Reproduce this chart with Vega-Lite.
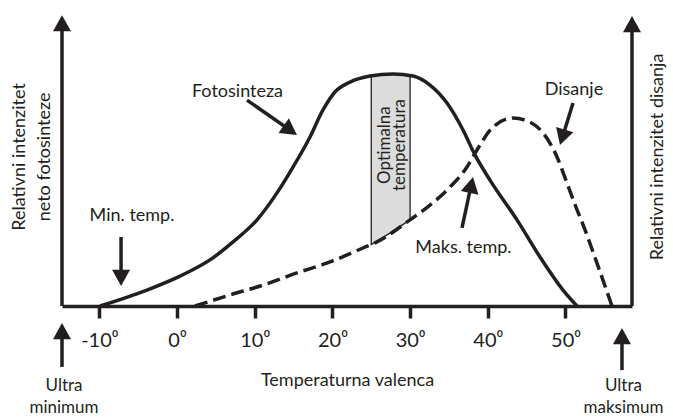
{
  "$schema": "https://vega.github.io/schema/vega-lite/v6.json",
  "width": 570,
  "height": 290,
  "autosize": {"type": "none"},
  "padding": {"left": 62, "top": 16, "right": 41, "bottom": 111},
  "background": "white",
  "config": {"view": {"stroke": null}, "font": "Lato"},
  "datasets": {
    "foto": [
      {"x": -9.91, "y": 0}, {"x": -3.86, "y": 5.5}, {"x": 0.39, "y": 10.3}, {"x": 4.63, "y": 16.6},
      {"x": 7.21, "y": 22.1}, {"x": 10.3, "y": 29.7}, {"x": 12.87, "y": 39.0}, {"x": 14.93, "y": 47.9},
      {"x": 17.12, "y": 58.3}, {"x": 18.79, "y": 67.6}, {"x": 20.33, "y": 73.8}, {"x": 22.27, "y": 77.2},
      {"x": 24.84, "y": 79.3}, {"x": 27.8, "y": 80.0}, {"x": 30.37, "y": 79.3}, {"x": 32.56, "y": 76.2},
      {"x": 34.75, "y": 70.0}, {"x": 36.81, "y": 60.7}, {"x": 38.35, "y": 52.1}, {"x": 40.28, "y": 43.4},
      {"x": 43.76, "y": 29.7}, {"x": 46.72, "y": 16.9}, {"x": 49.68, "y": 5.5}, {"x": 51.48, "y": 0}
    ],
    "dis": [
      {"x": 2.32, "y": 0}, {"x": 6.82, "y": 3.8}, {"x": 11.07, "y": 7.2}, {"x": 15.44, "y": 11.4},
      {"x": 19.69, "y": 15.2}, {"x": 23.94, "y": 20.0}, {"x": 25.74, "y": 22.1}, {"x": 29.99, "y": 29.7},
      {"x": 32.56, "y": 34.8}, {"x": 35.14, "y": 41.0}, {"x": 37.32, "y": 47.9}, {"x": 38.61, "y": 53.8},
      {"x": 40.67, "y": 61.7}, {"x": 43.24, "y": 64.8}, {"x": 45.43, "y": 63.4}, {"x": 47.1, "y": 59.7},
      {"x": 48.91, "y": 51.4}, {"x": 50.19, "y": 42.4}, {"x": 51.35, "y": 34.1}, {"x": 52.38, "y": 27.2},
      {"x": 54.05, "y": 14.8}, {"x": 55.98, "y": 0}
    ],
    "opt": [
      {"x": 25, "y": 79.35, "y2": 21.2},
      {"x": 27.5, "y": 79.95, "y2": 25.3},
      {"x": 30, "y": 79.4, "y2": 29.7}
    ],
    "axesLines": [
      {"x": -14.8, "y": 0, "x2": -14.8, "y2": 96},
      {"x": 58.56, "y": 0, "x2": 58.56, "y2": 96}
    ],
    "arrowRules": [
      {"x": -7.2, "y": 23.8, "x2": -7.2, "y2": 9.7},
      {"x": 9.01, "y": 71.0, "x2": 14.59, "y2": 60.55},
      {"x": 50.97, "y": 70.0, "x2": 49.6, "y2": 58.1},
      {"x": 36.68, "y": 26.9, "x2": 37.87, "y2": 41.8},
      {"x": -14.8, "y": -21.0, "x2": -14.8, "y2": -8.6},
      {"x": 57.27, "y": -22.1, "x2": 57.27, "y2": -10.3}
    ],
    "arrowHeads": [
      {"x": -14.8, "y": 100.3, "a": 0},
      {"x": 58.56, "y": 100, "a": 0},
      {"x": -7.2, "y": 6.9, "a": 180},
      {"x": 15.44, "y": 58.97, "a": 125},
      {"x": 49.29, "y": 55.5, "a": 197},
      {"x": 38.1, "y": 44.5, "a": 12},
      {"x": -14.8, "y": -5.9, "a": 0},
      {"x": 57.27, "y": -7.6, "a": 0}
    ],
    "labels": [
      {"x": 7.79, "y": 72.07, "t": "Fotosinteza"},
      {"x": 51.09, "y": 72.8, "t": "Disanje"},
      {"x": -5.79, "y": 29.3, "t": "Min. temp."},
      {"x": 36.87, "y": 18.3, "t": "Maks. temp."}
    ],
    "ultra": [
      {"x": -14.54, "y": -29.3, "t": "Ultra\nminimum"},
      {"x": 57.46, "y": -29.3, "t": "Ultra\nmaksimum"}
    ],
    "sideTitles": [
      {"x": -20.2, "y": 51.4, "t": "Relativni intenzitet"},
      {"x": -16.98, "y": 51.4, "t": "neto fotosinteze"},
      {"x": 61.91, "y": 51.4, "t": "Relativni intenzitet disanja"}
    ],
    "optText": [
      {"x": 26.77, "y": 55.5, "t": "Optimalna"},
      {"x": 28.7, "y": 55.5, "t": "temperatura"}
    ]
  },
  "encoding": {
    "x": {
      "field": "x", "type": "quantitative",
      "scale": {"domain": [-14.8, 58.56], "nice": false, "zero": false},
      "axis": {
        "values": [-10, 0, 10, 20, 30, 40, 50],
        "labelExpr": "datum.value + '⁰'",
        "labelFont": "Lato", "labelFontSize": 20, "labelColor": "#231f20",
        "labelPadding": 12, "labelFlush": false, "labelOverlap": false,
        "tickSize": 12, "tickWidth": 3.5, "tickColor": "#231f20",
        "domainColor": "#231f20", "domainWidth": 3.5, "grid": false,
        "title": "Temperaturna valenca", "titleFont": "Lato", "titleFontSize": 18,
        "titleFontWeight": "normal", "titleColor": "#231f20", "titlePadding": 21
      }
    },
    "y": {
      "field": "y", "type": "quantitative",
      "scale": {"domain": [0, 100], "nice": false, "zero": false},
      "axis": null
    }
  },
  "layer": [
    {
      "data": {"name": "opt"},
      "mark": {"type": "area", "fill": "#dcdcdc", "stroke": "#231f20", "strokeWidth": 1.3, "interpolate": "linear"},
      "encoding": {"y2": {"field": "y2"}}
    },
    {
      "data": {"name": "optText"},
      "mark": {"type": "text", "angle": 270, "align": "center", "baseline": "middle", "fontSize": 17, "color": "#231f20", "font": "Lato"},
      "encoding": {"text": {"field": "t"}}
    },
    {
      "data": {"name": "foto"},
      "mark": {"type": "line", "interpolate": "monotone", "color": "#231f20", "strokeWidth": 3.5}
    },
    {
      "data": {"name": "dis"},
      "mark": {"type": "line", "interpolate": "monotone", "color": "#231f20", "strokeWidth": 3.5, "strokeDash": [13, 6]}
    },
    {
      "data": {"name": "axesLines"},
      "mark": {"type": "rule", "color": "#231f20", "strokeWidth": 3.5},
      "encoding": {"x2": {"field": "x2"}, "y2": {"field": "y2"}}
    },
    {
      "data": {"name": "arrowRules"},
      "mark": {"type": "rule", "color": "#231f20", "strokeWidth": 3.5},
      "encoding": {"x2": {"field": "x2"}, "y2": {"field": "y2"}}
    },
    {
      "data": {"name": "arrowHeads"},
      "mark": {"type": "point", "shape": "M0,0L1,1.8L-1,1.8Z", "size": 324, "filled": true, "color": "#231f20", "opacity": 1, "strokeWidth": 0},
      "encoding": {"angle": {"field": "a", "type": "quantitative", "scale": null}}
    },
    {
      "data": {"name": "labels"},
      "mark": {"type": "text", "align": "center", "baseline": "alphabetic", "fontSize": 18, "color": "#231f20", "font": "Lato"},
      "encoding": {"text": {"field": "t"}}
    },
    {
      "data": {"name": "ultra"},
      "mark": {"type": "text", "align": "center", "baseline": "alphabetic", "fontSize": 17, "lineHeight": 22, "lineBreak": "\n", "color": "#231f20", "font": "Lato"},
      "encoding": {"text": {"field": "t"}}
    },
    {
      "data": {"name": "sideTitles"},
      "mark": {"type": "text", "angle": 270, "align": "center", "baseline": "middle", "fontSize": 18, "color": "#231f20", "font": "Lato"},
      "encoding": {"text": {"field": "t"}}
    }
  ]
}
